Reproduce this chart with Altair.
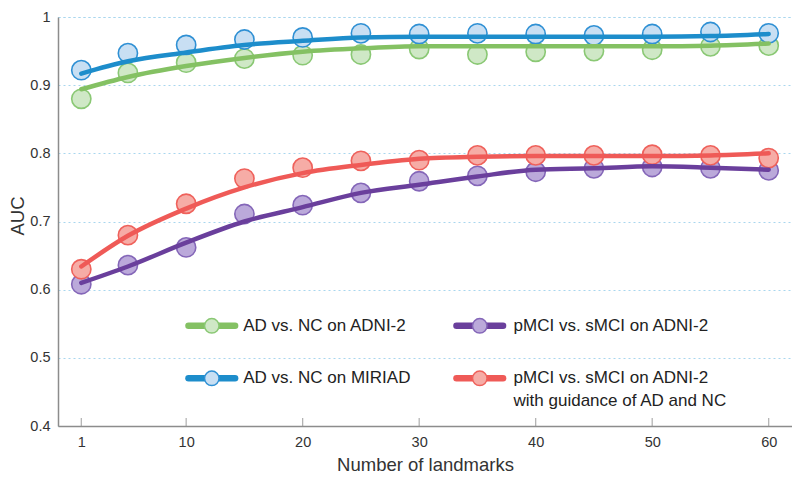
import altair as alt
import pandas as pd

# ---------------- data ----------------
landmarks = [1, 5, 10, 15, 20, 25, 30, 35, 40, 45, 50, 55, 60]
x_ticks = [1, 10, 20, 30, 40, 50, 60]
y_ticks = [0.4, 0.5, 0.6, 0.7, 0.8, 0.9, 1.0]

series = [
    "AD vs. NC on ADNI-2",
    "AD vs. NC on MIRIAD",
    "pMCI vs. sMCI on ADNI-2",
    "pMCI vs. sMCI on ADNI-2 with guidance of AD and NC",
]

green_pts = [0.880, 0.918, 0.933, 0.939, 0.944, 0.945, 0.953, 0.945, 0.949, 0.950, 0.952, 0.957, 0.958]
green_fit = [0.894, 0.912, 0.928, 0.940, 0.949, 0.954, 0.957, 0.957, 0.957, 0.957, 0.957, 0.958, 0.961]
blue_pts = [0.922, 0.947, 0.959, 0.967, 0.970, 0.976, 0.975, 0.976, 0.975, 0.973, 0.975, 0.978, 0.976]
blue_fit = [0.917, 0.935, 0.948, 0.959, 0.965, 0.970, 0.971, 0.971, 0.971, 0.971, 0.971, 0.972, 0.975]
purple_pts = [0.608, 0.636, 0.662, 0.711, 0.724, 0.742, 0.759, 0.767, 0.773, 0.778, 0.780, 0.778, 0.775]
purple_fit = [0.610, 0.634, 0.669, 0.700, 0.721, 0.742, 0.754, 0.766, 0.776, 0.778, 0.781, 0.779, 0.776]
red_pts = [0.630, 0.680, 0.726, 0.763, 0.779, 0.789, 0.790, 0.797, 0.797, 0.797, 0.798, 0.797, 0.793]
red_fit = [0.634, 0.679, 0.719, 0.750, 0.771, 0.783, 0.792, 0.795, 0.796, 0.796, 0.796, 0.797, 0.800]

pts = [green_pts, blue_pts, purple_pts, red_pts]
fits = [green_fit, blue_fit, purple_fit, red_fit]

# legend texts (two lines for the last entry)
legend_lines = [
    ["AD vs. NC on ADNI-2"],
    ["AD vs. NC on MIRIAD"],
    ["pMCI vs. sMCI on ADNI-2"],
    ["pMCI vs. sMCI on ADNI-2", "with guidance of AD and NC"],
]

# ---------------- styles ----------------
line_colors = ["#84c163", "#1d8dcb", "#6a3f9c", "#ef5a57"]
fill_colors = ["#cfe8c6", "#c8dff3", "#bba9da", "#f6aca6"]
stroke_colors = ["#8ac874", "#2f90d4", "#8466b8", "#ef615b"]

W, H = 734, 409
FONT = "Liberation Sans"

# legend layout (in data units of the chart's scales)
leg_col_x = [(10.2, 14.2, 12.2, 14.9), (10.2, 14.2, 12.2, 14.9),
             (33.2, 37.2, 35.2, 38.1), (33.2, 37.2, 35.2, 38.1)]
leg_row_y = [0.547, 0.470, 0.547, 0.470]
leg_line_gap = 0.034

# ---------------- tables ----------------
rows = []
for s, p, f in zip(series, pts, fits):
    for x, a, b in zip(landmarks, p, f):
        rows.append({"series": s, "landmarks": x, "auc": a, "fit": b})
df = pd.DataFrame(rows)

leg_rows, leg_text = [], []
for i, s in enumerate(series):
    x1, x2, xc, xt = leg_col_x[i]
    y = leg_row_y[i]
    leg_rows.append({"series": s, "lx1": x1, "lx2": x2, "lxc": xc, "ly": y})
    for j, t in enumerate(legend_lines[i]):
        leg_text.append({"txt": t, "tx": xt, "ty": y - j * leg_line_gap})
leg_df = pd.DataFrame(leg_rows)
leg_text_df = pd.DataFrame(leg_text)
tick_df = pd.DataFrame({"t": x_ticks})

# ---------------- scales ----------------
xs = alt.Scale(domain=[-1, 62], nice=False, zero=False)
ys = alt.Scale(domain=[0.4, 1.0], nice=False, zero=False)
col = alt.Scale(domain=series, range=line_colors)
fil = alt.Scale(domain=series, range=fill_colors)
stk = alt.Scale(domain=series, range=stroke_colors)

x_axis = alt.Axis(
    title="Number of landmarks", values=x_ticks, grid=False, ticks=False,
    labelPadding=9, labelFontSize=14.5, titleFontSize=18.5, titleFontWeight="normal",
    titleY=38, titleBaseline="middle", labelColor="#333", titleColor="#333",
    domainColor="#8c8c8c", domainWidth=1.5, labelFont=FONT, titleFont=FONT,
)
y_axis = alt.Axis(
    title="AUC", values=y_ticks, format=".1~f", grid=True, ticks=False,
    gridColor="#a9d6ee", gridDash=[2, 3], gridWidth=1,
    labelPadding=8, labelFontSize=14.5, titleFontSize=18.5, titleFontWeight="normal",
    titleX=-41, titleY=H / 2 - 6, titleBaseline="middle", titleAngle=270,
    labelColor="#333", titleColor="#333",
    domainColor="#8c8c8c", domainWidth=1.5, labelFont=FONT, titleFont=FONT,
)


def X(field):
    return alt.X(field, scale=xs, axis=x_axis, title="Number of landmarks")


def Y(field):
    return alt.Y(field, scale=ys, axis=y_axis, title="AUC")


points = alt.Chart(df).mark_point(
    shape="circle", filled=True, size=370, strokeWidth=1.6, opacity=1
).encode(
    x=X("landmarks:Q"),
    y=Y("auc:Q"),
    fill=alt.Fill("series:N", scale=fil, legend=None),
    stroke=alt.Stroke("series:N", scale=stk, legend=None),
)

lines = alt.Chart(df).mark_line(
    strokeWidth=4.5, interpolate="monotone", strokeCap="round"
).encode(
    x=X("landmarks:Q"),
    y=Y("fit:Q"),
    color=alt.Color("series:N", scale=col, legend=None),
    detail="series:N",
)

ticks = alt.Chart(tick_df).mark_tick(
    orient="vertical", size=8, thickness=1.2, color="#8c8c8c"
).encode(
    x=X("t:Q"),
    y=alt.value(H - 4),
)

leg_line = alt.Chart(leg_df).mark_rule(strokeWidth=6.5, strokeCap="round").encode(
    x=X("lx1:Q"),
    x2="lx2:Q",
    y=Y("ly:Q"),
    color=alt.Color("series:N", scale=col, legend=None),
)
leg_pt = alt.Chart(leg_df).mark_point(
    shape="circle", filled=True, size=210, strokeWidth=1.5, opacity=1
).encode(
    x=X("lxc:Q"),
    y=Y("ly:Q"),
    fill=alt.Fill("series:N", scale=fil, legend=None),
    stroke=alt.Stroke("series:N", scale=stk, legend=None),
)
leg_txt = alt.Chart(leg_text_df).mark_text(
    align="left", baseline="middle", fontSize=17, color="#222", font=FONT
).encode(
    x=X("tx:Q"),
    y=Y("ty:Q"),
    text="txt:N",
)

chart = alt.layer(points, lines, ticks, leg_line, leg_pt, leg_txt).properties(
    width=W, height=H,
    autosize=alt.AutoSizeParams(type="none"),
    padding={"left": 50, "top": 9, "right": 0, "bottom": 48},
).configure(font=FONT).configure_view(
    stroke="#a9d6ee", strokeDash=[2, 3], strokeWidth=1
)

chart.save("out.html", embed_options={"renderer": "svg", "actions": False})
